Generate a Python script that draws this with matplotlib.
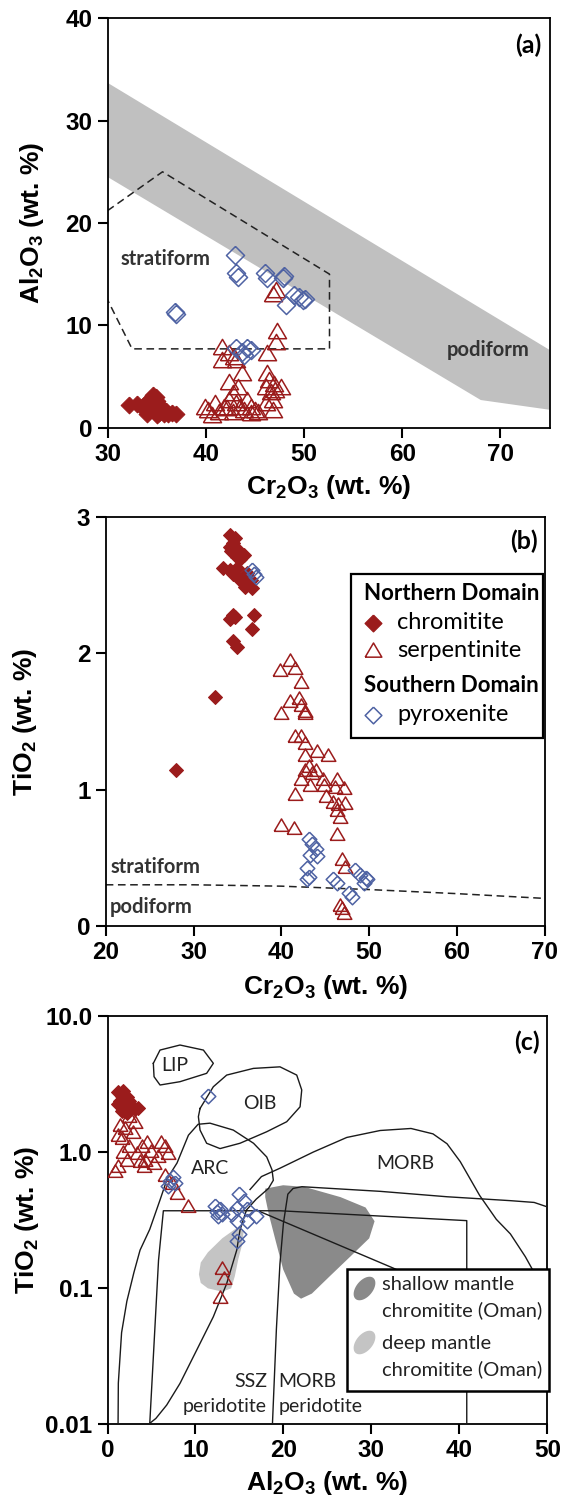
import numpy as np
import matplotlib
matplotlib.use("Agg")
import matplotlib.pyplot as plt
from matplotlib.patches import Polygon, Rectangle
from matplotlib.ticker import NullLocator

plt.rcParams["font.family"] = ["Liberation Sans", "DejaVu Sans"]
plt.rcParams["mathtext.fontset"] = "custom"
plt.rcParams["mathtext.rm"] = "Liberation Sans:bold"
plt.rcParams["mathtext.default"] = "rm"

RED = "#9b1c1c"
BLUE = "#4e62a3"
NOTE = ["Lato", "DejaVu Sans"]

# ── (a) Cr2O3 vs Al2O3 ─────────────────────────────────────────────────
A_CHR_CR = [32.2, 33.0, 33.5, 33.8, 34.0, 34.3, 34.6, 34.9, 35.0, 35.4, 34.5,
            34.2, 34.8, 35.2, 35.5, 35.8, 36.0, 36.2, 36.6, 37.0, 35.0, 34.0]
A_CHR_AL = [2.2, 2.3, 2.0, 2.2, 2.5, 2.8, 3.2, 3.0, 2.6, 2.0, 1.8,
            1.6, 1.5, 1.4, 1.6, 1.3, 1.6, 1.3, 1.4, 1.3, 1.2, 1.3]
A_SER_CR = [47.15, 46.8, 47.3, 47.2, 46.2, 41.7, 42.4, 41.7, 43.1, 43.7, 42.4,
            46.2, 46.4, 46.9, 46.1, 47.1, 47.7, 46.6, 39.9, 40.2, 40.9, 41.3,
            41.9, 42.4, 42.8, 43.3, 43.1, 43.9, 44.2, 44.6, 45.0, 45.3, 42.8,
            42.2, 46.1, 46.8, 46.8, 43.5, 44.6, 40.6, 42.9]
A_SER_AL = [13.45, 13.1, 9.4, 8.4, 7.3, 7.9, 7.3, 6.6, 6.6, 5.3, 4.5,
            5.3, 4.7, 4.3, 4.0, 3.7, 4.0, 3.5, 2.05, 1.7, 2.4, 1.55,
            2.05, 2.7, 3.35, 4.0, 2.4, 1.7, 2.7, 2.05, 1.7, 1.55, 1.55,
            1.9, 2.4, 2.7, 1.7, 2.05, 1.4, 1.2, 6.9]
A_PYX_CR = [42.96, 43.1, 43.3, 46.06, 46.2, 47.9, 48.0, 49.0, 49.9, 50.1,
            48.2, 49.5, 36.9, 37.0, 43.1, 43.7, 44.2, 43.9, 44.6]
A_PYX_AL = [16.87, 15.1, 14.75, 15.1, 14.6, 14.6, 14.8, 13.0, 12.5, 12.6,
            12.0, 12.8, 11.3, 11.1, 7.75, 7.4, 7.75, 7.1, 7.6]
A_BAND_CR = [30, 75, 75, 68, 30]
A_BAND_AL = [33.7, 7.6, 1.75, 2.7, 24.5]
A_STRAT_CR = [30, 35.6, 52.6, 52.6, 32.5, 30]
A_STRAT_AL = [21.2, 25.0, 15.0, 7.7, 7.7, 12.5]

# ── (b) Cr2O3 vs TiO2 ──────────────────────────────────────────────────
B_CHR_CR = [34.1, 34.7, 34.5, 34.1, 34.9, 34.3, 34.9, 35.3, 35.7, 33.3, 34.1,
            35.0, 36.1, 36.5, 35.9, 36.7, 34.5, 35.3, 34.5, 34.1, 34.7, 36.9,
            36.7, 34.5, 34.9, 32.45, 27.96]
B_CHR_TI = [2.87, 2.85, 2.81, 2.78, 2.77, 2.75, 2.71, 2.69, 2.72, 2.63, 2.61,
            2.63, 2.59, 2.54, 2.49, 2.48, 2.58, 2.54, 2.28, 2.25, 2.27, 2.28,
            2.18, 2.09, 2.05, 1.68, 1.14]
B_SER_CR = [41.0, 39.8, 41.6, 42.2, 41.0, 42.0, 42.2, 42.65, 42.65, 40.0,
            41.6, 42.2, 42.65, 42.65, 44.1, 45.3, 42.65, 43.1, 43.5, 43.9,
            42.2, 43.3, 44.7, 46.3, 44.9, 46.1, 47.1, 41.6, 45.1, 45.9, 46.5,
            47.3, 46.3, 46.7, 40.0, 41.4, 46.3, 46.9, 47.3, 46.7, 46.9, 47.1]
B_SER_TI = [1.95, 1.88, 1.89, 1.79, 1.65, 1.67, 1.62, 1.58, 1.56, 1.56,
            1.39, 1.39, 1.34, 1.25, 1.28, 1.25, 1.14, 1.17, 1.12, 1.14,
            1.08, 1.03, 1.08, 1.08, 1.03, 1.02, 1.01, 0.97, 0.95, 0.91, 0.89,
            0.90, 0.85, 0.80, 0.74, 0.72, 0.67, 0.49, 0.43, 0.15, 0.13, 0.09]
B_PYX_CR = [36.7, 37.1, 36.9, 43.1, 43.5, 43.9, 43.3, 44.1, 42.9, 43.1, 42.9,
            45.9, 46.3, 48.4, 49.0, 49.6, 49.8, 49.4, 47.75, 48.0]
B_PYX_TI = [2.61, 2.56, 2.58, 0.64, 0.60, 0.56, 0.52, 0.51, 0.42, 0.36, 0.34,
            0.34, 0.31, 0.41, 0.37, 0.35, 0.34, 0.31, 0.24, 0.21]
B_DIV_CR = [20, 30, 40, 50, 60, 70]
B_DIV_TI = [0.30, 0.30, 0.29, 0.265, 0.235, 0.20]

# ── (c) Al2O3 vs TiO2 ──────────────────────────────────────────────────
C_CHR_AL = [1.2, 1.8, 1.6, 2.2, 1.4, 2.0, 2.6, 3.1, 3.5, 1.6, 2.2, 1.2, 2.4]
C_CHR_TI = [2.75, 2.83, 2.59, 2.52, 2.37, 2.24, 2.18, 2.06, 2.12, 2.0, 1.94, 2.24, 2.37]
C_SER_AL = [1.4, 1.6, 1.8, 1.2, 0.8, 2.4, 3.1, 2.9, 2.4, 3.3, 3.9, 4.5, 4.9,
            4.3, 4.1, 5.3, 6.1, 6.5, 6.9, 5.7, 2.0, 1.2, 3.7, 2.2,
            6.5, 7.3, 7.9, 9.2, 13.0, 13.2, 12.8]
C_SER_TI = [1.58, 1.26, 1.0, 0.79, 0.72, 1.83, 1.67, 1.41, 1.11, 0.99, 1.11, 1.18, 1.02,
            0.88, 0.79, 0.83, 1.18, 1.10, 0.99, 0.94, 1.50, 1.33, 0.86, 0.88,
            0.68, 0.59, 0.50, 0.40, 0.141, 0.118, 0.086]
C_PYX_AL = [11.4, 7.5, 7.1, 6.9, 7.7, 12.2, 12.4, 12.6, 12.8, 13.0, 14.9, 15.5,
            14.7, 15.9, 16.9, 14.7, 14.9, 14.7, 14.1, 15.9]
C_PYX_TI = [2.59, 0.66, 0.61, 0.56, 0.59, 0.40, 0.36, 0.34, 0.38, 0.35, 0.49, 0.44,
            0.39, 0.38, 0.34, 0.31, 0.25, 0.22, 0.35, 0.31]

C_LIP_AL = [5.21, 5.97, 8.24, 10.9, 12.03, 11.27, 8.24, 5.97, 5.29]
C_LIP_TI = [4.49, 5.62, 6.12, 5.62, 4.49, 3.79, 3.29, 3.11, 3.58]
C_OIB_AL = [10.52, 12.03, 13.55, 16.58, 19.61, 21.51, 22.08, 21.89, 20.37, 18.1,
            15.06, 12.79, 11.27, 10.52, 10.33]
C_OIB_TI = [2.09, 3.02, 3.68, 4.12, 4.23, 3.68, 2.86, 2.15, 1.67, 1.41,
            1.16, 1.06, 1.16, 1.45, 1.82]
C_ARC_AL = [1.2, 1.23, 1.6, 2.2, 3.0, 3.7, 4.8, 6.0, 6.8, 7.9, 9.2, 10.3, 11.65,
            14.3, 16.6, 18.1, 18.7, 18.85, 18.3, 16.9, 15.8, 15.06, 14.69, 13.55,
            12.03, 10.14, 8.24, 6.73, 5.5, 4.7]
C_ARC_TI = [0.01, 0.02, 0.047, 0.08, 0.13, 0.19, 0.27, 0.45, 0.64, 0.83, 1.33, 1.6, 1.63,
            1.45, 1.16, 0.92, 0.74, 0.62, 0.54, 0.45, 0.375, 0.267, 0.19, 0.108,
            0.0615, 0.035, 0.0199, 0.0138, 0.011, 0.01]
C_MORB_AL = [16.2, 17.5, 19.6, 23.4, 27.2, 31.0, 34.5, 37.0, 38.6, 40.1, 42.3,
             44.2, 45.8, 47.5, 48.5, 48.8]
C_MORB_TI = [0.53, 0.66, 0.76, 1.0, 1.28, 1.44, 1.49, 1.36, 1.15, 0.85, 0.48,
             0.32, 0.25, 0.17, 0.13, 0.10]
C_DIAG_AL = [16.9, 32.5, 36.0]
C_DIAG_TI = [0.375, 0.14, 0.11]
C_SSZ_AL = [4.8, 5.8, 6.35, 19.6, 40.84, 40.84]
C_SSZ_TI = [0.01, 0.16, 0.37, 0.37, 0.313, 0.01]
C_MP_AL = [18.75, 19.2, 19.6, 20.0, 20.5, 21.1, 22.1, 31.0, 38.6, 45.8, 48.5, 50.0]
C_MP_TI = [0.01, 0.05, 0.15, 0.30, 0.49, 0.54, 0.556, 0.514, 0.469, 0.439, 0.426, 0.395]
C_SHALLOW_AL = [17.93, 19.97, 22.41, 26.49, 29.34, 30.36, 29.75, 27.71, 25.26, 23.23,
                22.0, 21.19, 19.97, 19.15, 18.34, 17.93]
C_SHALLOW_TI = [0.538, 0.570, 0.554, 0.466, 0.391, 0.310, 0.232, 0.173, 0.122, 0.091,
                0.0835, 0.091, 0.137, 0.218, 0.348, 0.466]
C_DEEP_AL = [10.39, 10.6, 11.41, 13.04, 14.67, 15.48, 15.28, 14.87, 14.47, 14.06,
             13.04, 11.41, 10.6]
C_DEEP_TI = [0.126, 0.154, 0.183, 0.232, 0.276, 0.26, 0.206, 0.163, 0.122, 0.0995,
             0.094, 0.0995, 0.109]

# markers
TRI = [(-1, -0.8), (1, -0.8), (0, 0.9), (-1, -0.8)]
DIA = [(0, 1), (1, 0), (0, -1), (-1, 0), (0, 1)]
t = np.linspace(0, 2 * np.pi, 41)
ang = np.deg2rad(50)
ex, ey = np.cos(t), 0.6 * np.sin(t)
BLOB = list(zip(ex * np.cos(ang) - ey * np.sin(ang), ex * np.sin(ang) + ey * np.cos(ang)))


def style(ax):
    for s in ax.spines.values():
        s.set_linewidth(1.3)
    ax.tick_params(direction="out", length=7, width=1.5, labelsize=17.5, pad=4,
                   top=False, right=False)
    for lab in ax.get_xticklabels() + ax.get_yticklabels():
        lab.set_fontweight("bold")


def labels(ax, xl, yl, xy, yx):
    ax.set_xlabel(xl, fontsize=19, fontweight="bold", va="center")
    ax.set_ylabel(yl, fontsize=19, fontweight="bold", va="center")
    ax.xaxis.set_label_coords(0.5, xy)
    ax.yaxis.set_label_coords(yx, 0.5)


def plot_groups(ax, chr_xy, ser_xy, pyx_xy, ms_d, ms_t, ms_p):
    ax.plot(*chr_xy, ls="none", marker=DIA, ms=ms_d, mfc=RED, mec=RED, mew=0.8, zorder=5)
    ax.plot(*ser_xy, ls="none", marker=TRI, ms=ms_t, mfc="none", mec=RED, mew=1.1, zorder=6)
    ax.plot(*pyx_xy, ls="none", marker=DIA, ms=ms_p, mfc="none", mec=BLUE, mew=1.1, zorder=7)


fig = plt.figure(figsize=(5.62, 14.99), dpi=100)
NK = dict(family=NOTE, fontweight="bold", fontsize=14.5, color="#333333", va="center", ha="left")
PK = dict(ha="right", va="center", family=NOTE, fontweight="bold", fontsize=18)

# ── panel (a) ──
ax = fig.add_axes([0.1913, 0.7147, 0.7865, 0.2731])
ax.add_patch(Polygon(list(zip(A_BAND_CR, A_BAND_AL)), closed=True, fc="#c0c0c0", ec="none", zorder=1))
ax.plot(A_STRAT_CR, A_STRAT_AL, ls=(0, (5, 3)), color="#222222", lw=1.1, zorder=2)
plot_groups(ax, (A_CHR_CR, A_CHR_AL), (A_SER_CR, A_SER_AL), (A_PYX_CR, A_PYX_AL), 12, 13, 13)
ax.set_xlim(30, 75)
ax.set_ylim(0, 40)
ax.set_xticks([30, 40, 50, 60, 70])
ax.set_yticks([0, 10, 20, 30, 40])
ax.text(31.3, 16.5, "stratiform", **NK)
ax.text(64.5, 7.6, "podiform", **NK)
ax.text(0.981, 0.935, "(a)", transform=ax.transAxes, **PK)
labels(ax, r"Cr$_2$O$_3$ (wt. %)", r"Al$_2$O$_3$ (wt. %)", -0.145, -0.171)
style(ax)

# ── panel (b) ──
ax = fig.add_axes([0.1881, 0.3825, 0.7813, 0.2724])
ax.plot(B_DIV_CR, B_DIV_TI, ls=(0, (5, 3)), color="#222222", lw=1.1, zorder=2)
plot_groups(ax, (B_CHR_CR, B_CHR_TI), (B_SER_CR, B_SER_TI), (B_PYX_CR, B_PYX_TI), 10, 10.5, 10.5)
ax.set_xlim(20, 70)
ax.set_ylim(0, 3)
ax.set_xticks([20, 30, 40, 50, 60, 70])
ax.set_yticks([0, 1, 2, 3])
ax.text(20.5, 0.43, "stratiform", **NK)
ax.text(20.5, 0.14, "podiform", **NK)
ax.text(0.984, 0.94, "(b)", transform=ax.transAxes, **PK)
ax.add_patch(Rectangle((0.558, 0.46), 0.438, 0.40, transform=ax.transAxes,
                       fc="white", ec="black", lw=1.6, zorder=8))
for yy, txt, bold in [(0.814, "Northern Domain", True), (0.742, "chromitite", False),
                      (0.675, "serpentinite", False), (0.589, "Southern Domain", True),
                      (0.516, "pyroxenite", False)]:
    ax.text(0.588 if bold else 0.664, yy, txt, transform=ax.transAxes, family=NOTE,
            fontweight="bold" if bold else "normal", fontsize=16 if bold else 17,
            va="center", ha="left", zorder=9)
ax.plot([0.608], [0.742], transform=ax.transAxes, marker=DIA, ms=12, mfc=RED, mec=RED, zorder=9, clip_on=False)
ax.plot([0.608], [0.675], transform=ax.transAxes, marker=TRI, ms=12, mfc="none", mec=RED, mew=1.1, zorder=9, clip_on=False)
ax.plot([0.608], [0.516], transform=ax.transAxes, marker=DIA, ms=12, mfc="none", mec=BLUE, mew=1.1, zorder=9, clip_on=False)
labels(ax, r"Cr$_2$O$_3$ (wt. %)", r"TiO$_2$ (wt. %)", -0.15, -0.184)
style(ax)

# ── panel (c) ──
ax = fig.add_axes([0.1913, 0.0500, 0.7826, 0.2722])
ax.set_yscale("log")
ax.fill(C_SHALLOW_AL, C_SHALLOW_TI, fc="#8a8a8a", ec="none", zorder=1)
ax.fill(C_DEEP_AL, C_DEEP_TI, fc="#c4c4c4", ec="none", zorder=1)
lk = dict(color="#1a1a1a", lw=1.0, zorder=3)
ax.plot(C_LIP_AL + C_LIP_AL[:1], C_LIP_TI + C_LIP_TI[:1], **lk)
ax.plot(C_OIB_AL + C_OIB_AL[:1], C_OIB_TI + C_OIB_TI[:1], **lk)
ax.plot(C_ARC_AL, C_ARC_TI, **lk)
ax.plot(C_MORB_AL, C_MORB_TI, **lk)
ax.plot(C_DIAG_AL, C_DIAG_TI, **lk)
ax.plot(C_SSZ_AL, C_SSZ_TI, **lk)
ax.plot(C_MP_AL, C_MP_TI, **lk)
plot_groups(ax, (C_CHR_AL, C_CHR_TI), (C_SER_AL, C_SER_TI), (C_PYX_AL, C_PYX_TI), 10, 10.5, 10.5)
fk = dict(family=NOTE, fontsize=14, color="#222222", ha="center", va="center", zorder=4)
ax.text(7.67, 4.36, "LIP", **fk)
ax.text(17.3, 2.28, "OIB", **fk)
ax.text(11.65, 0.76, "ARC", **fk)
ax.text(33.9, 0.82, "MORB", **fk)
ax.text(18.2, 0.0205, "SSZ", **dict(fk, ha="right"))
ax.text(13.3, 0.0135, "peridotite", **fk)
ax.text(19.4, 0.0205, "MORB", **dict(fk, ha="left"))
ax.text(19.4, 0.0135, "peridotite", **dict(fk, ha="left"))
ax.text(0.982, 0.935, "(c)", transform=ax.transAxes, **PK)
ax.add_patch(Rectangle((0.544, 0.080), 0.460, 0.299, transform=ax.transAxes,
                       fc="white", ec="black", lw=1.8, zorder=8, clip_on=False))
for yy, txt in [(0.341, "shallow mantle"), (0.278, "chromitite (Oman)"),
                (0.198, "deep mantle"), (0.135, "chromitite (Oman)")]:
    ax.text(0.623, yy, txt, transform=ax.transAxes, family=NOTE, fontsize=14.5,
            color="#222222", va="center", ha="left", zorder=9)
ax.plot([0.583], [0.333], transform=ax.transAxes, marker=BLOB, ms=17, mfc="#8a8a8a", mec="none", zorder=9)
ax.plot([0.583], [0.202], transform=ax.transAxes, marker=BLOB, ms=17, mfc="#c4c4c4", mec="none", zorder=9)
ax.set_xlim(0, 50)
ax.set_ylim(0.01, 10)
ax.set_xticks([0, 10, 20, 30, 40, 50])
ax.set_yticks([0.01, 0.1, 1, 10])
ax.set_yticklabels(["0.01", "0.1", "1.0", "10.0"])
ax.yaxis.set_minor_locator(NullLocator())
labels(ax, r"Al$_2$O$_3$ (wt. %)", r"TiO$_2$ (wt. %)", -0.145, -0.183)
style(ax)

fig.savefig("out.png", dpi=100)
